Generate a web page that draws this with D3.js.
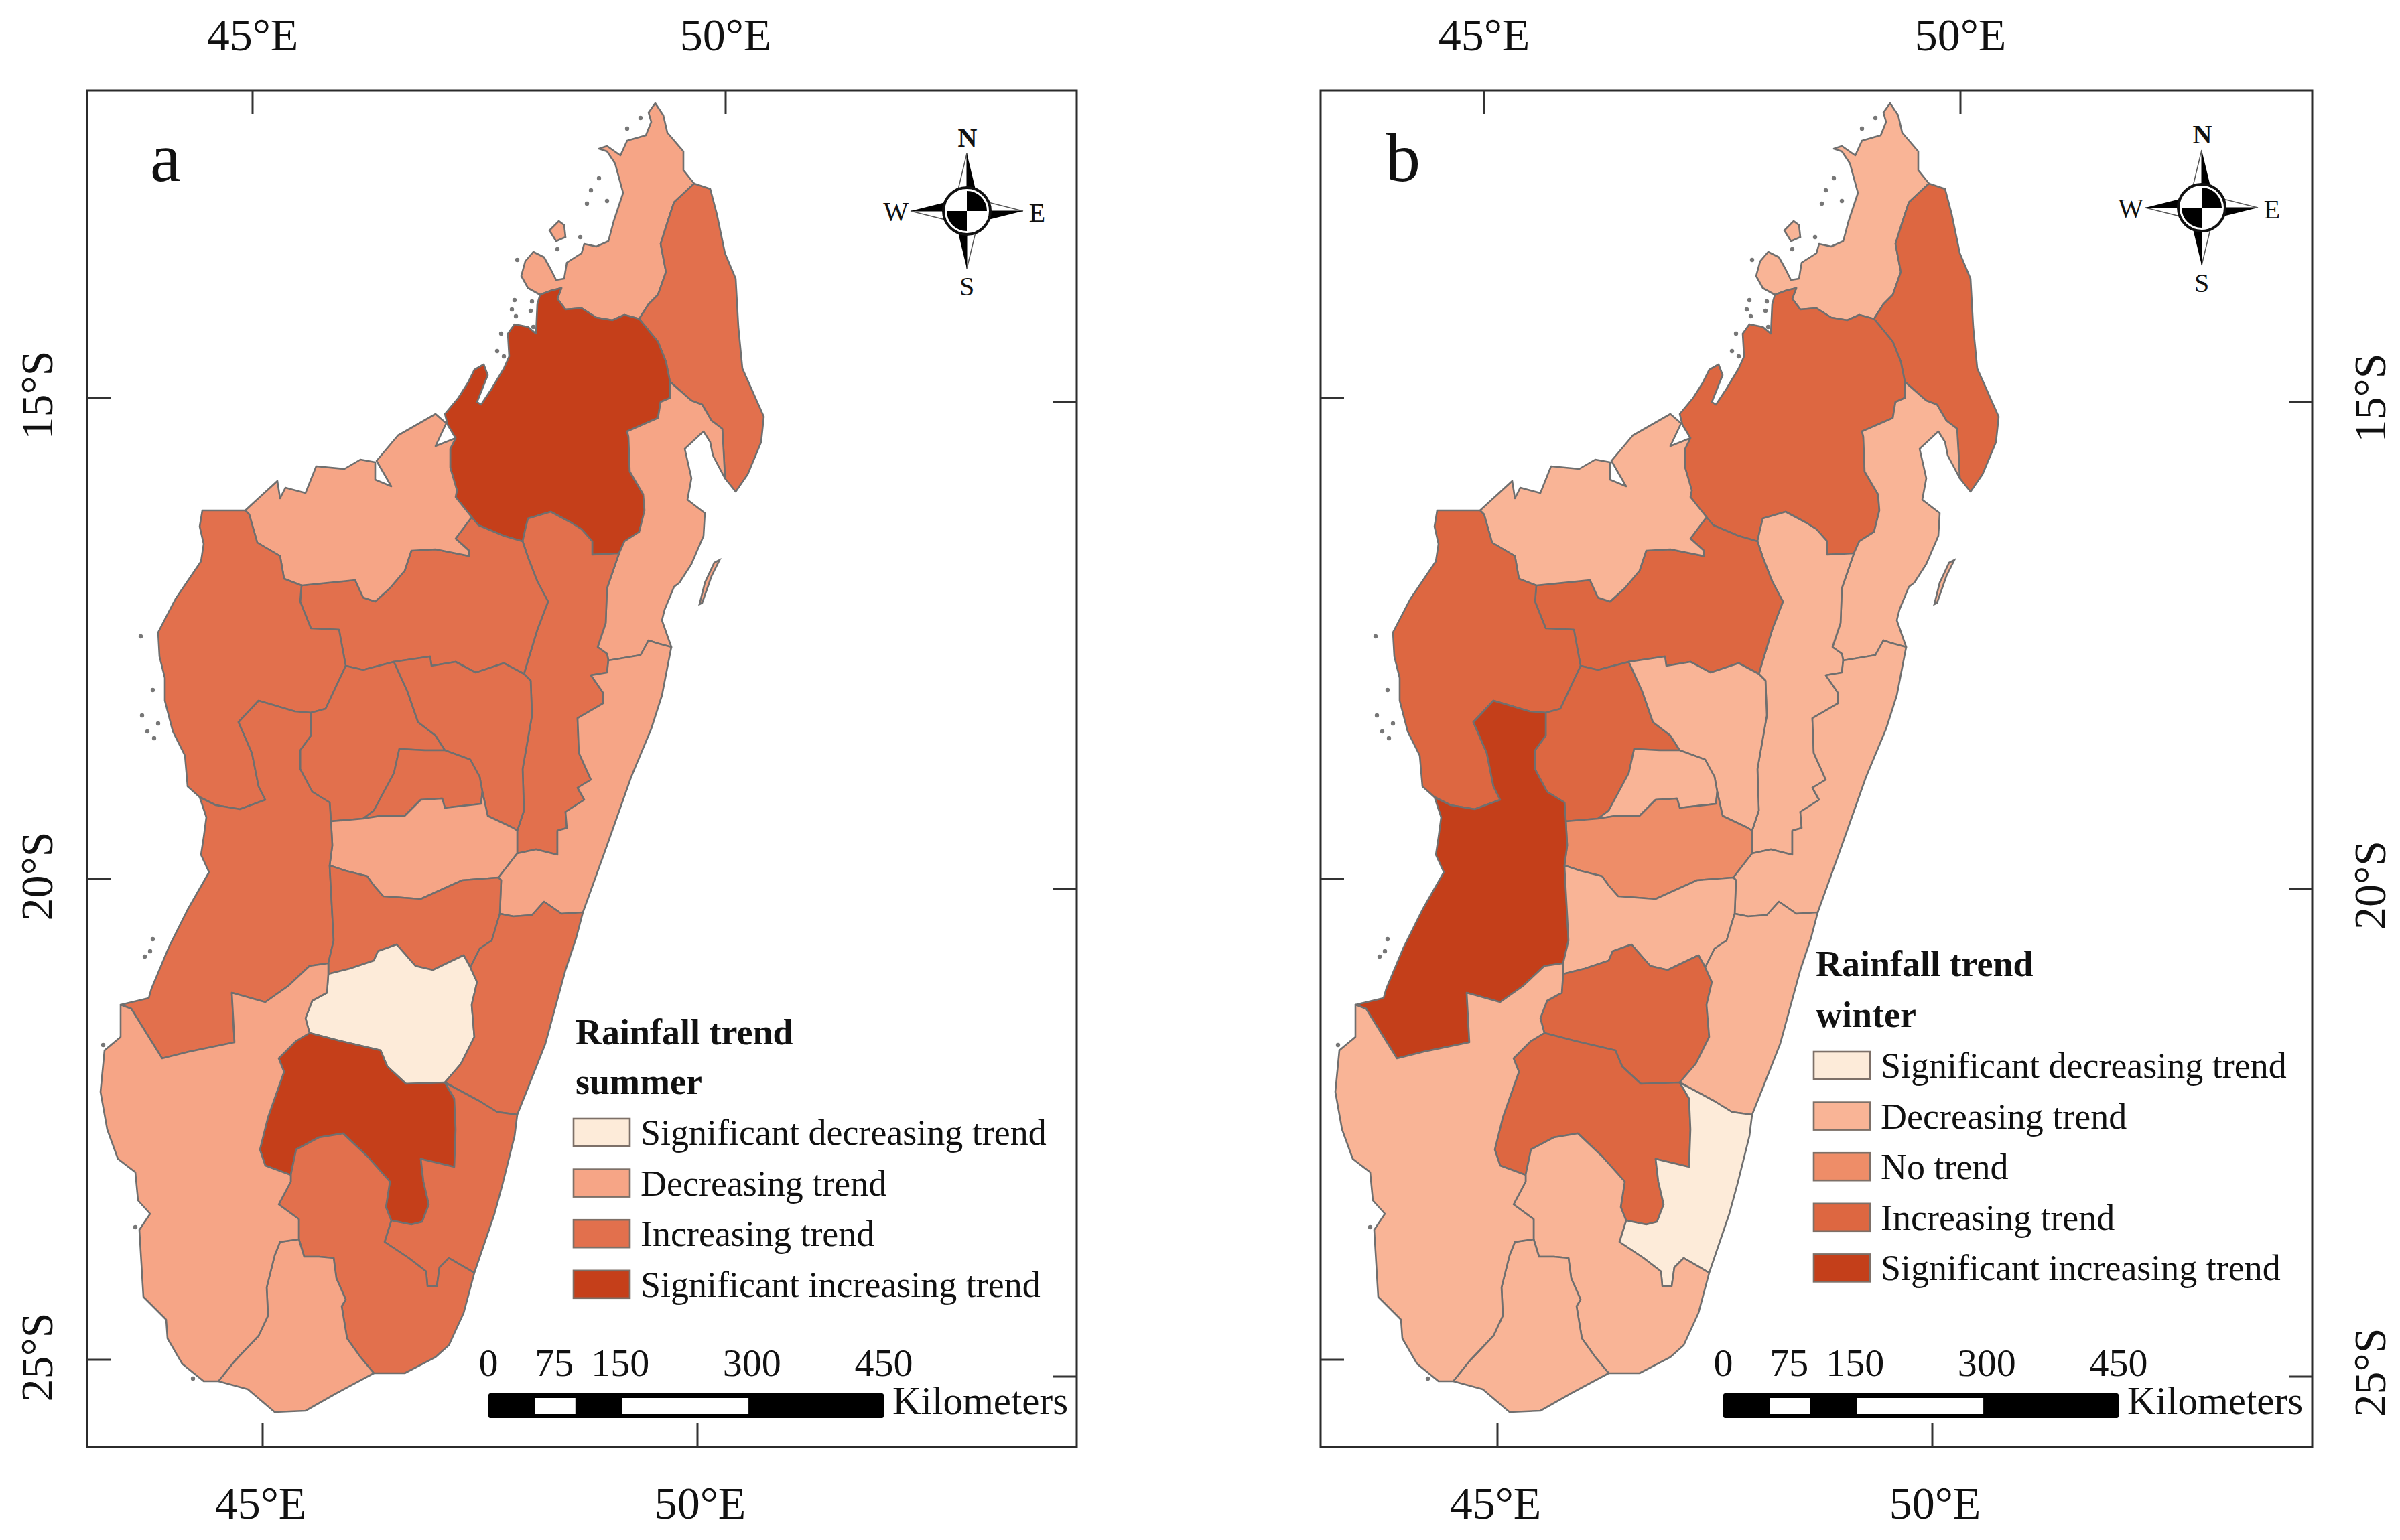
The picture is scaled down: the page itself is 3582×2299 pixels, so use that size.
<!DOCTYPE html>
<html>
<head>
<meta charset="utf-8">
<title>Rainfall trend, summer and winter</title>
<script src="https://cdn.jsdelivr.net/npm/d3@7"></script>
<style>
  body { margin: 0; background: #fff; }
  svg { display: block; }
  text { font-family: "Liberation Serif", serif; fill: #111; }
</style>
</head>
<body>
<svg id="chart" width="3582" height="2299"></svg>
<script>
//
// Data: shared region borders, in map sheet units
//

var dianaCoast = [[403,220],[394,215],[389,206],[392,195],[398,188],[406,192],[411,201],[415,209],[421,208],[423,196],[434,189],[436,182],[445,184],[454,180],[458,165],[465,144],[459,122],[453,113],[447,111],[453,109],[463,116],[468,105],[482,101],[486,91],[484,84],[489,77],[495,86],[498,99],[510,113],[510,127],[518,137]]
var dianaSava = [[518,137],[503,151],[499,163],[493,182],[497,203],[491,220],[484,227],[477,238]]
var dianaSofia = [[477,238],[466,235],[457,239],[445,237],[434,230],[422,231],[416,223],[419,215],[411,217],[403,220]]
var savaCoast = [[518,137],[530,141],[535,160],[541,189],[549,208],[551,244],[554,275],[570,311],[568,330],[558,354],[549,367],[541,357]]
var savaAnalan = [[541,357],[540,337],[539,320],[531,314],[524,302],[516,299],[500,285]]
var savaSofia = [[500,285],[497,270],[491,255],[477,238]]
var sofiaCoast = [[403,220],[401,227],[400,249],[394,244],[384,242],[379,249],[380,266],[376,275],[367,290],[359,302],[356,300],[364,280],[361,272],[354,276],[349,286],[342,297],[332,309],[334,317],[340,327]]
var sofiaBoeny = [[340,327],[336,335],[336,349],[341,366],[340,371],[352,386]]
var sofiaBetsiboka = [[352,386],[357,392],[376,400],[390,404]]
var sofiaAlaotra = [[390,404],[392,395],[394,387],[411,382],[426,390],[434,395],[442,404],[442,414],[462,413]]
var sofiaAnalan = [[462,413],[466,404],[477,397],[481,381],[480,369],[470,352],[469,326],[468,322],[491,312],[493,300],[500,297],[500,285]]
var analanCoast = [[541,357],[532,340],[530,330],[525,322],[511,335],[516,357],[513,373],[526,383],[525,400],[516,421],[507,435],[503,438],[496,455],[494,463],[501,483]]
var analanAtsin = [[501,483],[490,480],[484,478],[478,489],[454,493]]
var analanAlaotra = [[454,493],[453,488],[446,483],[452,465],[453,439],[462,413]]
var alaotraAtsin = [[454,493],[453,502],[441,504],[450,517],[450,525],[431,536],[432,562],[441,582],[431,588],[436,597],[422,606],[423,618],[416,620],[416,638],[400,634],[386,637]]
var alaotraAmoron = [[386,637],[386,620]]
var alaotraWest = [[386,620],[391,605],[390,574],[397,534],[396,508],[391,503]]
var alaotraBetsi = [[391,503],[401,470],[409,449],[401,434],[394,416],[390,404]]
var betsiBoeny = [[352,386],[340,402],[350,411],[350,415],[325,410],[307,411],[302,426],[291,439],[280,449],[271,446],[265,433],[225,437]]
var betsiMelaky = [[225,437],[224,449],[232,469],[253,470],[258,497]]
var betsiBong = [[258,497],[271,500],[294,494]]
var betsiRE = [[294,494],[321,490],[322,497],[340,494],[355,502],[376,495],[391,503]]
var boenyCoast = [[183,381],[207,359],[209,372],[213,364],[228,368],[236,348],[257,350],[269,343],[280,345],[280,358],[292,363],[281,344],[297,325],[325,309],[333,316],[325,333],[340,327]]
var boenyMelaky = [[225,437],[212,432],[209,415],[192,405],[186,384],[183,381]]
var melakyBong = [[258,497],[243,529],[232,532]]
var melakyMenabe = [[232,532],[220,531],[193,523],[178,539],[188,562],[193,587],[198,597],[179,604],[161,601],[149,595]]
var melakyCoast = [[149,595],[140,587],[138,564],[129,546],[123,523],[123,506],[119,490],[118,472],[131,447],[150,419],[152,406],[149,393],[151,381],[183,381]]
var bongRE = [[294,494],[304,516],[312,539],[325,549],[332,560]]
var bongRC = [[332,560],[317,560],[298,559],[294,577],[279,605],[271,611]]
var bongAmoron = [[271,611],[247,613]]
var bongMenabe = [[247,613],[246,599],[233,591],[224,574],[224,560],[232,549],[232,532]]
var reAmoron = [[386,620],[383,618],[364,609],[360,591]]
var reRC = [[360,591],[358,580],[351,567],[332,560]]
var rcAmoron = [[360,591],[359,600],[332,603],[330,596],[314,597],[302,609],[284,609],[271,611]]
var amoronAtsin = [[386,637],[372,655]]
var amoronRG = [[372,655],[345,657],[325,666],[314,671],[286,669],[279,661],[274,654],[258,650],[246,646]]
var menabeAmoron = [[246,646],[248,631],[247,613]]
var atsinCoast = [[501,483],[500,488],[494,519],[486,544],[471,580],[453,631],[435,681]]
var atsinVato = [[435,681],[419,682],[406,673],[397,683],[383,684],[373,682]]
var atsinRG = [[373,682],[374,657],[372,655]]
var menabeRG = [[246,646],[249,702],[245,719]]
var menabeRM = [[245,719],[231,721],[215,736],[198,748],[173,741],[175,778],[141,785],[121,790],[111,774],[98,753],[90,750]]
var menabeCoast = [[90,750],[111,745],[113,738],[126,707],[140,679],[156,651],[150,638],[152,625],[154,610],[149,595]]
var rgVato = [[373,682],[367,702],[358,708],[351,722]]
var rgIho = [[351,722],[346,713],[323,724],[310,721],[296,705],[282,710],[279,717],[261,723],[245,727],[245,719]]
var ihoVato = [[351,722],[356,733],[352,750],[354,774],[344,794],[332,808]]
var ihoRH = [[332,808],[303,809],[289,796],[284,784],[254,777],[231,771]]
var ihoRM = [[231,771],[228,760],[233,747],[244,741],[245,727]]
var rhRJ = [[332,808],[339,820],[340,843],[339,871],[314,865],[316,882],[320,899],[315,912],[307,914],[292,911]]
var rhRK = [[292,911],[288,901],[291,882],[274,863],[256,846],[238,849],[221,858],[217,877]]
var rhRM = [[217,877],[198,870],[194,858],[200,834],[212,800],[208,790],[221,777],[231,771]]
var vatoCoast = [[435,681],[430,700],[422,724],[407,779],[394,812],[386,832]]
var vatoRJ = [[386,832],[371,830],[358,822],[332,808]]
var rjCoast = [[386,832],[384,848],[375,884],[369,906],[354,950]]
var rjRK = [[354,950],[335,939],[328,946],[326,960],[319,960],[318,949],[305,939],[287,927],[292,911]]
var rkCoast = [[354,950],[346,980],[335,1004],[325,1013],[302,1025],[279,1025]]
var rkRL = [[279,1025],[269,1013],[259,999],[255,975],[258,970],[251,954],[249,939],[238,938],[227,938],[223,925]]
var rkRM = [[223,925],[223,910],[208,899],[217,882],[217,877]]
var rlCoast = [[279,1025],[251,1040],[228,1053],[205,1054],[185,1037],[163,1031]]
var rlRM = [[163,1031],[175,1016],[193,997],[200,982],[199,961],[205,937],[209,927],[223,925]]
var rmCoast = [[90,750],[90,774],[78,784],[75,815],[80,843],[88,865],[101,875],[103,896],[112,906],[104,918],[107,968],[124,985],[125,999],[136,1018],[152,1031],[163,1031]]

// island pieces, each drawn in the colour of the region it belongs to
var nosyBe = [[410,172],[417,165],[421,168],[422,177],[415,180]]
var nosyBoraha = [[537,418],[531,430],[524,450],[522,451],[526,435],[533,420]]
var islets = [[468,96],[478,88],[441,142],[447,133],[438,152],[453,150],[433,177],[416,186],[386,194],[384,224],[382,231],[385,236],[397,225],[396,232],[398,244],[371,262],[374,249],[376,266],[105,475],[114,515],[106,534],[110,546],[115,551],[118,540],[114,701],[112,710],[108,714],[77,780],[101,916],[144,1029]]

function rev(arc) { return arc.slice().reverse() }

var regionNames = ['Diana', 'Sava', 'Sofia', 'Analanjirofo', 'Alaotra', 'Betsiboka', 'Boeny', 'Melaky', 'Bongolava', 'Analamanga', 'Itasy', 'Vakinankaratra', 'Atsinanana', 'Menabe', 'Matsiatra', 'Ihorombe', 'Anosy North', 'Vatovavy', 'Atsimo East', 'Atsimo Centre', 'Androy', 'Atsimo West']
var regionArcs = [
  [dianaCoast, dianaSava, dianaSofia],
  [savaCoast, savaAnalan, savaSofia, rev(dianaSava)],
  [sofiaCoast, sofiaBoeny, sofiaBetsiboka, sofiaAlaotra, sofiaAnalan, savaSofia, dianaSofia],
  [analanCoast, analanAtsin, analanAlaotra, sofiaAnalan, rev(savaAnalan)],
  [sofiaAlaotra, rev(analanAlaotra), alaotraAtsin, alaotraAmoron, alaotraWest, alaotraBetsi],
  [betsiBoeny, betsiMelaky, betsiBong, betsiRE, alaotraBetsi, rev(sofiaBetsiboka)],
  [boenyCoast, sofiaBoeny, betsiBoeny, boenyMelaky],
  [rev(boenyMelaky), betsiMelaky, melakyBong, melakyMenabe, melakyCoast],
  [betsiBong, bongRE, bongRC, bongAmoron, bongMenabe, rev(melakyBong)],
  [betsiRE, rev(alaotraWest), reAmoron, reRC, rev(bongRE)],
  [rev(reRC), rcAmoron, rev(bongRC)],
  [rev(bongAmoron), rev(rcAmoron), rev(reAmoron), rev(alaotraAmoron), amoronAtsin, amoronRG, menabeAmoron],
  [rev(analanAtsin), atsinCoast, atsinVato, atsinRG, rev(amoronAtsin), rev(alaotraAtsin)],
  [rev(melakyMenabe), rev(bongMenabe), rev(menabeAmoron), menabeRG, menabeRM, menabeCoast],
  [rev(amoronRG), rev(atsinRG), rgVato, rgIho, rev(menabeRG)],
  [rev(rgIho), ihoVato, ihoRH, ihoRM],
  [rev(ihoRH), rhRJ, rhRK, rhRM],
  [rev(atsinVato), vatoCoast, vatoRJ, rev(ihoVato), rev(rgVato)],
  [rev(vatoRJ), rjCoast, rjRK, rev(rhRJ)],
  [rev(rhRK), rev(rjRK), rkCoast, rkRL, rkRM],
  [rev(rkRL), rlCoast, rlRM],
  [rmCoast, rlRM, rkRM, rhRM, ihoRM, menabeRM]
]

// trend class of each region, same order as regionNames
var summerTrend = ['dec', 'inc', 'sigInc', 'dec', 'inc', 'inc', 'dec', 'inc', 'inc', 'inc', 'inc', 'dec', 'dec', 'inc', 'inc', 'sigDec', 'sigInc', 'inc', 'inc', 'inc', 'dec', 'dec']
var winterTrend = ['dec', 'inc', 'inc', 'dec', 'dec', 'inc', 'dec', 'inc', 'inc', 'dec', 'dec', 'none', 'dec', 'sigInc', 'dec', 'inc', 'inc', 'dec', 'sigDec', 'dec', 'dec', 'dec']

var trendKeys = ['sigDec', 'dec', 'none', 'inc', 'sigInc']
var trendLabels = ['Significant decreasing trend', 'Decreasing trend', 'No trend', 'Increasing trend', 'Significant increasing trend']
var summerColors = ['#fdebd9', '#f6a586', '#ee8d68', '#e2704d', '#c53f1a']
var winterColors = ['#fdebd9', '#f9b496', '#ee8d68', '#dd6741', '#c43f1a']
var summerKeys = ['sigDec', 'dec', 'inc', 'sigInc']
var winterKeys = ['sigDec', 'dec', 'none', 'inc', 'sigInc']

var lonTicks = [45, 50]
var latTicks = [15, 20, 25]
var scaleTicks = [0, 75, 150, 300, 450]
var scaleGaps = [[53, 99], [152, 296]]

var compassLetters = ['N', 'E', 'S', 'W']

//
// Layout
//

var panelA = {
  letter: 'a', frame: [130, 1607], map: [130, 1607], trend: summerTrend, colors: summerColors, keys: summerKeys,
  title: ['Rainfall trend', 'summer'], titleY: [1559, 1633], swatchX: 856, swatchY: 1670,
  compass: [1443, 315], top: [377, 1083], bottom: [392, 1041], letterX: 224, latSide: 'left'
}
var panelB = {
  letter: 'b', frame: [1971, 3451], map: [1973, 3450], trend: winterTrend, colors: winterColors, keys: winterKeys,
  title: ['Rainfall trend', 'winter'], titleY: [1457, 1533], swatchX: 2707, swatchY: 1570,
  compass: [3286, 310], top: [2215, 2926], bottom: [2235, 2884], letterX: 2068, latSide: 'right'
}

var sheetX = [65, 803.5]
var sheetY = [67.5, 1080]
var frameY = [135, 2160]
var tickLen = 35

var svg = d3.select('#chart')

//
// Functions
//

function drawMap(g, p, x, y) {
  var line = d3.line().x(function (d) { return x(d[0]) }).y(function (d) { return y(d[1]) })
  var color = d3.scaleOrdinal().domain(trendKeys).range(p.colors)
  var rings = regionArcs.map(function (arcs) { return d3.merge(arcs) })

  g.selectAll('path.region').data(rings).join('path')
    .attr('class', 'region')
    .attr('d', function (d) { return line(d) + 'Z' })
    .attr('fill', function (d, i) { return color(p.trend[i]) })
    .attr('stroke', '#6f6f6f')
    .attr('stroke-width', 2.6)
    .attr('stroke-linejoin', 'round')

  g.append('path').attr('d', line(nosyBe) + 'Z').attr('fill', color(p.trend[0])).attr('stroke', '#6f6f6f').attr('stroke-width', 2.6)
  g.append('path').attr('d', line(nosyBoraha) + 'Z').attr('fill', color(p.trend[3])).attr('stroke', '#6f6f6f').attr('stroke-width', 2.6)

  g.selectAll('circle.islet').data(islets).join('circle')
    .attr('class', 'islet')
    .attr('cx', function (d) { return x(d[0]) })
    .attr('cy', function (d) { return y(d[1]) })
    .attr('r', 3.2)
    .attr('fill', '#777')
}

function drawFrame(g, p) {
  var left = p.frame[0], right = p.frame[1]
  var topX = d3.scaleLinear().domain(lonTicks).range(p.top)
  var bottomX = d3.scaleLinear().domain(lonTicks).range(p.bottom)
  var leftY = d3.scaleLinear().domain([15, 25]).range([594, 2030])
  var rightY = d3.scaleLinear().domain([15, 25]).range([600, 2055])

  g.append('rect')
    .attr('x', left).attr('y', frameY[0])
    .attr('width', right - left).attr('height', frameY[1] - frameY[0])
    .attr('fill', 'none').attr('stroke', '#2b2b2b').attr('stroke-width', 3)

  lonTicks.forEach(function (lon) {
    g.append('line').attr('x1', topX(lon)).attr('x2', topX(lon)).attr('y1', frameY[0]).attr('y2', frameY[0] + tickLen).attr('stroke', '#333').attr('stroke-width', 3)
    g.append('line').attr('x1', bottomX(lon)).attr('x2', bottomX(lon)).attr('y1', frameY[1]).attr('y2', frameY[1] - tickLen).attr('stroke', '#333').attr('stroke-width', 3)
    g.append('text').attr('x', topX(lon)).attr('y', 75).attr('text-anchor', 'middle').attr('font-size', 68).text(lon + '°E')
    g.append('text').attr('x', bottomX(lon) - (lon === 45 ? 3 : -4)).attr('y', 2267).attr('text-anchor', 'middle').attr('font-size', 68).text(lon + '°E')
  })

  latTicks.forEach(function (lat) {
    g.append('line').attr('x1', left).attr('x2', left + tickLen).attr('y1', leftY(lat)).attr('y2', leftY(lat)).attr('stroke', '#333').attr('stroke-width', 3)
    g.append('line').attr('x1', right).attr('x2', right - tickLen).attr('y1', rightY(lat)).attr('y2', rightY(lat)).attr('stroke', '#333').attr('stroke-width', 3)
    var lx = p.latSide === 'left' ? 78 : 3560
    var ly = p.latSide === 'left' ? leftY(lat) - 4 : rightY(lat) - 6
    g.append('text').attr('transform', 'translate(' + lx + ',' + ly + ') rotate(-90)')
      .attr('text-anchor', 'middle').attr('font-size', 68).text(lat + '°S')
  })

  g.append('text').attr('x', p.letterX).attr('y', 270).attr('font-size', 104).text(p.letter)
}

function drawLegend(g, p) {
  var rowY = d3.scaleLinear().domain([0, 1]).range([p.swatchY, p.swatchY + 75.6])
  g.selectAll('text.title').data(p.title).join('text')
    .attr('class', 'title')
    .attr('x', p.swatchX + 3)
    .attr('y', function (d, i) { return p.titleY[i] })
    .attr('font-size', 54).attr('font-weight', 'bold')
    .text(function (d) { return d })

  var rows = g.selectAll('g.row').data(p.keys).join('g').attr('class', 'row')
  rows.append('rect')
    .attr('x', p.swatchX).attr('y', function (d, i) { return rowY(i) })
    .attr('width', 84).attr('height', 41)
    .attr('fill', function (d) { return p.colors[trendKeys.indexOf(d)] })
    .attr('stroke', '#7d7068').attr('stroke-width', 2.6)
  rows.append('text')
    .attr('x', p.swatchX + 100).attr('y', function (d, i) { return rowY(i) + 39 })
    .attr('font-size', 54).attr('fill', '#222')
    .text(function (d) { return trendLabels[trendKeys.indexOf(d)] })
}

function drawScaleBar(g, p, left) {
  var km = d3.scaleLinear().domain([0, 450]).range([left, left + 590])
  g.append('rect').attr('x', km(0)).attr('y', 2080).attr('width', km(450) - km(0)).attr('height', 37).attr('rx', 3).attr('fill', '#000')
  g.selectAll('rect.gap').data(scaleGaps).join('rect')
    .attr('class', 'gap')
    .attr('x', function (d) { return km(d[0]) })
    .attr('y', 2087)
    .attr('width', function (d) { return km(d[1]) - km(d[0]) })
    .attr('height', 24)
    .attr('fill', '#fff')
  g.selectAll('text.km').data(scaleTicks).join('text')
    .attr('class', 'km')
    .attr('x', function (d) { return km(d) })
    .attr('y', 2054)
    .attr('text-anchor', 'middle')
    .attr('font-size', 58)
    .text(function (d) { return d })
  g.append('text').attr('x', km(450) + 13).attr('y', 2111).attr('font-size', 59).text('Kilometers')
}

function drawCompass(g, p) {
  var c = g.append('g').attr('transform', 'translate(' + p.compass[0] + ',' + p.compass[1] + ')')
  compassLetters.forEach(function (d, i) {
    var a = c.append('g').attr('transform', 'rotate(' + i * 90 + ')')
    var reach = i % 2 ? 84 : 86
    a.append('path').attr('d', 'M0,' + -reach + 'L-14,-28L0,-28Z').attr('fill', '#fff').attr('stroke', '#555').attr('stroke-width', 1.5)
    a.append('path').attr('d', 'M0,' + -reach + 'L14,-28L0,-28Z').attr('fill', '#000')
  })
  c.append('circle').attr('r', 35).attr('fill', '#fff').attr('stroke', '#111').attr('stroke-width', 4)
  var arc = d3.arc().innerRadius(0).outerRadius(30)
  c.append('path').attr('d', arc({ startAngle: 0, endAngle: Math.PI / 2 })).attr('fill', '#000')
  c.append('path').attr('d', arc({ startAngle: Math.PI, endAngle: Math.PI * 1.5 })).attr('fill', '#000')

  var letterAt = { N: [1, -110], S: [0, 112], W: [-106, 0], E: [105, 2] }
  compassLetters.forEach(function (d) {
    var pos = letterAt[d]
    c.append('text').attr('x', d === 'N' ? 1 : pos[0]).attr('y', pos[1])
      .attr('text-anchor', 'middle').attr('dominant-baseline', 'central')
      .attr('font-size', 40).attr('font-weight', d === 'N' ? 'bold' : 'normal')
      .text(d)
  })
}

function drawPanel(p) {
  var g = svg.append('g')
  var x = d3.scaleLinear().domain(sheetX).range(p.map)
  var y = d3.scaleLinear().domain(sheetY).range(frameY)
  drawFrame(g, p)
  drawMap(g.append('g'), p, x, y)
  drawLegend(g.append('g'), p)
  drawScaleBar(g.append('g'), p, x(364.5))
  drawCompass(g, p)
}

drawPanel(panelA)
drawPanel(panelB)
</script>
</body>
</html>
